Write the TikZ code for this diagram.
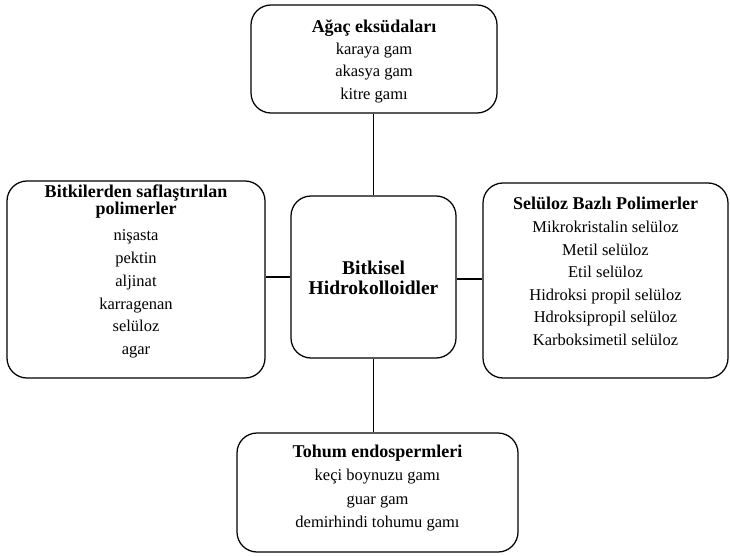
\documentclass[tikz,border=0pt]{standalone}
\usepackage{fontspec}
\setmainfont{Liberation Serif}
\newcommand{\ttl}[1]{{\fontsize{18}{18}\selectfont\bfseries #1}}
\begin{document}
\begin{tikzpicture}[x=1pt,y=-1pt,
  box/.style={draw=black,line width=1.25pt,rounded corners=20pt,inner sep=0pt},
  txt/.style={align=center,inner sep=0pt,font=\fontsize{16.5}{22.3}\selectfont},
  conn/.style={draw=black,line width=1.1pt}]
\useasboundingbox (0,0) rectangle (730,556);
% boxes
\node[box,minimum width=246pt,minimum height=108pt] (top) at (374,59) {};
\node[box,minimum width=165pt,minimum height=162pt] (mid) at (373.5,277) {};
\node[box,minimum width=258pt,minimum height=197pt] (left) at (136,279.5) {};
\node[box,minimum width=245pt,minimum height=195pt] (right) at (605.5,280.5) {};
\node[box,minimum width=281pt,minimum height=119pt] (bot) at (377.5,492.5) {};
% texts
\node[txt] (toptxt) at (374,61) {\ttl{Ağaç eksüdaları}\\karaya gam\\akasya gam\\kitre gamı};
\node[txt,font=\fontsize{19.5}{19.5}\selectfont\bfseries] (midtxt) at (373.5,278) {Bitkisel\\Hidrokolloidler};
\node[txt,font=\fontsize{18}{16}\selectfont\bfseries] (lefttitle) at (136,201.5) {Bitkilerden saflaştırılan\\polimerler};
\node[txt,font=\fontsize{16.5}{22.8}\selectfont] (lefttxt) at (136,294) {nişasta\\pektin\\aljinat\\karragenan\\selüloz\\agar};
\node[txt,font=\fontsize{16.5}{22.6}\selectfont] (righttxt) at (605.5,271.5) {\ttl{Selüloz Bazlı Polimerler}\\Mikrokristalin selüloz\\Metil selüloz\\Etil selüloz\\Hidroksi propil selüloz\\Hdroksipropil selüloz\\Karboksimetil selüloz};
\node[txt,font=\fontsize{16.5}{23.5}\selectfont] (bottxt) at (377.5,488) {\ttl{Tohum endospermleri}\\keçi boynuzu gamı\\guar gam\\demirhindi tohumu gamı};
% connectors
\draw[conn] (top.south -| mid.north) -- (mid.north);
\draw[conn] (mid.south) -- (mid.south |- bot.north);
\draw[conn] (mid.west) -- (mid.west -| left.east);
\draw[conn] ([yshift=-2pt]mid.east) -- ([yshift=-2pt]mid.east -| right.west);
\end{tikzpicture}
\end{document}
